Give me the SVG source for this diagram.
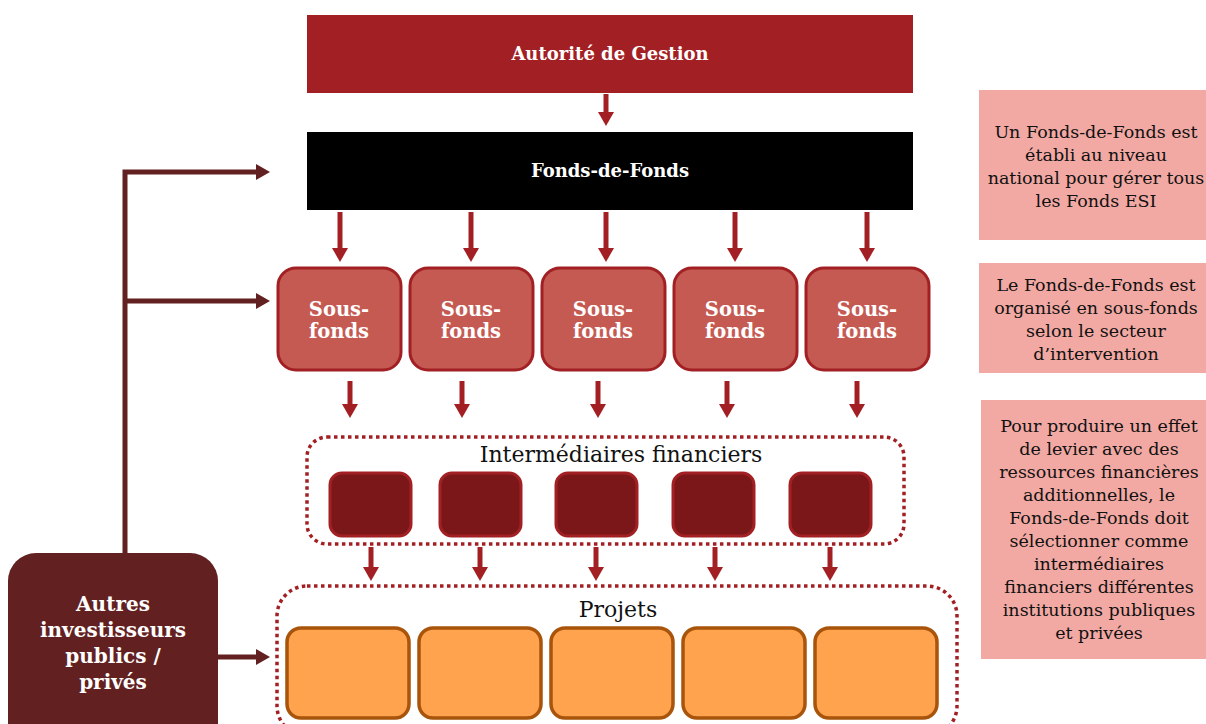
<svg xmlns="http://www.w3.org/2000/svg" width="1206" height="724" viewBox="0 0 1206 724">
<style>
.hdr{font-family:"DejaVu Serif","Liberation Serif",serif;font-weight:bold;fill:#fff;text-anchor:middle}
.sf{fill:#C55A53;stroke:#A22023;stroke-width:3}
.if{fill:#7B1718;stroke:#A22023;stroke-width:3}
.pj{fill:#FFA34F;stroke:#A8540A;stroke-width:3.5}
.dot{fill:none;stroke:#A22023;stroke-width:3.5;stroke-dasharray:3.5 3.5}
.note{fill:#F2A9A3}
.nt{font-family:"DejaVu Serif","Liberation Serif",serif;font-size:17.5px;fill:#111;text-anchor:middle}
.lbl{font-family:"DejaVu Serif","Liberation Serif",serif;font-size:22px;fill:#111;text-anchor:middle}
.ar{stroke:#A22023;stroke-width:5;fill:none;marker-end:url(#ah)}
.ad{stroke:#622120;stroke-width:5;fill:none}
.adm{marker-end:url(#ahd)}
</style>
<defs>
<marker id="ah" markerUnits="userSpaceOnUse" markerWidth="14" markerHeight="16" refX="2" refY="8" orient="auto">
<path d="M0,0 L14,8 L0,16 z" fill="#A22023"/>
</marker>
<marker id="ahd" markerUnits="userSpaceOnUse" markerWidth="14" markerHeight="16" refX="2" refY="8" orient="auto">
<path d="M0,0 L14,8 L0,16 z" fill="#622120"/>
</marker>
</defs>

<g id="autorite">
<rect x="307" y="15" width="606" height="78" fill="#A22023"/>
<text class="hdr" x="610" y="60" font-size="18">Autorité de Gestion</text>
</g>
<g id="fdf">
<rect x="307" y="132" width="606" height="78" fill="#000"/>
<text class="hdr" x="610" y="177" font-size="18">Fonds-de-Fonds</text>
</g>

<g id="sous-fonds">
<g id="sf1"><rect class="sf" x="278" y="268" width="123" height="102" rx="18"/><text class="hdr" x="339" y="316" font-size="19.5">Sous-</text><text class="hdr" x="339" y="338" font-size="19.5">fonds</text></g>
<g id="sf2"><rect class="sf" x="410" y="268" width="123" height="102" rx="18"/><text class="hdr" x="471" y="316" font-size="19.5">Sous-</text><text class="hdr" x="471" y="338" font-size="19.5">fonds</text></g>
<g id="sf3"><rect class="sf" x="542" y="268" width="123" height="102" rx="18"/><text class="hdr" x="603" y="316" font-size="19.5">Sous-</text><text class="hdr" x="603" y="338" font-size="19.5">fonds</text></g>
<g id="sf4"><rect class="sf" x="674" y="268" width="123" height="102" rx="18"/><text class="hdr" x="735" y="316" font-size="19.5">Sous-</text><text class="hdr" x="735" y="338" font-size="19.5">fonds</text></g>
<g id="sf5"><rect class="sf" x="806" y="268" width="123" height="102" rx="18"/><text class="hdr" x="867" y="316" font-size="19.5">Sous-</text><text class="hdr" x="867" y="338" font-size="19.5">fonds</text></g>
</g>

<g id="intermediaires">
<rect class="dot" x="307" y="437" width="597" height="107" rx="20"/>
<text class="lbl" x="621" y="462">Intermédiaires financiers</text>
<rect class="if" x="330" y="473" width="81" height="63" rx="12"/>
<rect class="if" x="440" y="473" width="81" height="63" rx="12"/>
<rect class="if" x="556" y="473" width="81" height="63" rx="12"/>
<rect class="if" x="673" y="473" width="81" height="63" rx="12"/>
<rect class="if" x="790" y="473" width="81" height="63" rx="12"/>
</g>

<g id="projets">
<rect class="dot" x="277" y="586" width="680" height="150" rx="30"/>
<text class="lbl" x="618" y="617">Projets</text>
<rect class="pj" x="287" y="628" width="122" height="90" rx="14"/>
<rect class="pj" x="419" y="628" width="122" height="90" rx="14"/>
<rect class="pj" x="551" y="628" width="122" height="90" rx="14"/>
<rect class="pj" x="683" y="628" width="122" height="90" rx="14"/>
<rect class="pj" x="815" y="628" width="122" height="90" rx="14"/>
</g>

<g id="autres">
<rect x="8" y="553" width="210" height="200" rx="28" fill="#622120"/>
<text class="hdr" x="113" y="611" font-size="20">Autres</text>
<text class="hdr" x="113" y="637" font-size="20">investisseurs</text>
<text class="hdr" x="113" y="663" font-size="20">publics /</text>
<text class="hdr" x="113" y="689" font-size="20">privés</text>
</g>

<g id="note1">
<rect class="note" x="979" y="90" width="227" height="150"/>
<text class="nt"><tspan x="1096" y="138">Un Fonds-de-Fonds est</tspan><tspan x="1096" y="161">établi au niveau</tspan><tspan x="1096" y="184">national pour gérer tous</tspan><tspan x="1096" y="207">les Fonds ESI</tspan></text>
</g>
<g id="note2">
<rect class="note" x="979" y="263" width="227" height="110"/>
<text class="nt"><tspan x="1096" y="291">Le Fonds-de-Fonds est</tspan><tspan x="1096" y="314">organisé en sous-fonds</tspan><tspan x="1096" y="337">selon le secteur</tspan><tspan x="1096" y="360">d’intervention</tspan></text>
</g>
<g id="note3">
<rect class="note" x="981" y="400" width="225" height="259"/>
<text class="nt"><tspan x="1099" y="432">Pour produire un effet</tspan><tspan x="1099" y="455">de levier avec des</tspan><tspan x="1099" y="478">ressources financières</tspan><tspan x="1099" y="501">additionnelles, le</tspan><tspan x="1099" y="524">Fonds-de-Fonds doit</tspan><tspan x="1099" y="547">sélectionner comme</tspan><tspan x="1099" y="570">intermédiaires</tspan><tspan x="1099" y="593">financiers différentes</tspan><tspan x="1099" y="616">institutions publiques</tspan><tspan x="1099" y="639">et privées</tspan></text>
</g>

<g id="connectors">
<line class="ar" x1="606" y1="94" x2="606" y2="114"/>
<line class="ar" x1="340" y1="212" x2="340" y2="250"/>
<line class="ar" x1="471" y1="212" x2="471" y2="250"/>
<line class="ar" x1="606" y1="212" x2="606" y2="250"/>
<line class="ar" x1="735" y1="212" x2="735" y2="250"/>
<line class="ar" x1="867" y1="212" x2="867" y2="250"/>
<line class="ar" x1="350" y1="381" x2="350" y2="406"/>
<line class="ar" x1="462" y1="381" x2="462" y2="406"/>
<line class="ar" x1="598" y1="381" x2="598" y2="406"/>
<line class="ar" x1="727" y1="381" x2="727" y2="406"/>
<line class="ar" x1="857" y1="381" x2="857" y2="406"/>
<line class="ar" x1="371" y1="547" x2="371" y2="569"/>
<line class="ar" x1="480" y1="547" x2="480" y2="569"/>
<line class="ar" x1="596" y1="547" x2="596" y2="569"/>
<line class="ar" x1="715" y1="547" x2="715" y2="569"/>
<line class="ar" x1="830" y1="547" x2="830" y2="569"/>
<path class="ad adm" d="M125,553 L125,172 L258,172"/>
<line class="ad adm" x1="125" y1="301" x2="258" y2="301"/>
<line class="ad adm" x1="218" y1="657" x2="258" y2="657"/>
</g>
</svg>
